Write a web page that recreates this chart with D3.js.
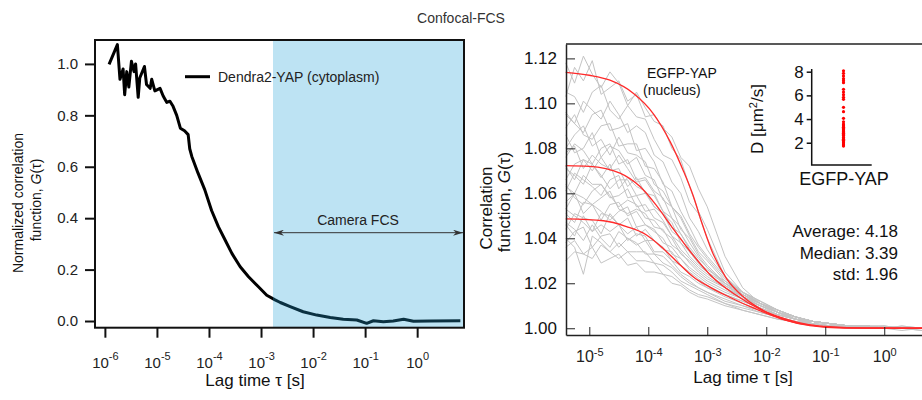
<!DOCTYPE html>
<html>
<head>
<meta charset="utf-8">
<script src="https://cdn.jsdelivr.net/npm/d3@7"></script>
<style>
body { margin: 0; background: #fff; }
svg { display: block; font-family: "Liberation Sans", Arial, sans-serif; }
</style>
</head>
<body>
<div id="chart"></div>
<script>
// Left panel: Dendra2-YAP (cytoplasm), lag times as log10(tau / s)
var leftLag = [-5.92,-5.76,-5.71,-5.65,-5.62,-5.58,-5.54,-5.49,-5.44,-5.41,-5.36,-5.33,-5.24,-5.20,-5.13,-5.10,-5.04,
	-4.94,-4.88,-4.81,-4.75,-4.69,-4.62,-4.55,-4.47,-4.40,-4.37,-4.33,-4.21,-4.08,-3.95,-3.82,-3.69,-3.56,-3.40,-3.24,
	-3.05,-2.89,-2.73,-2.63,-2.44,-2.19,-1.93,-1.67,-1.42,-1.16,-0.97,-0.84,-0.65,-0.46,-0.26,-0.07,0.25,0.83];
var leftG = [0.998,1.075,0.94,0.98,0.88,0.97,0.91,1.01,0.97,1.00,0.87,0.945,0.99,0.92,0.905,0.94,0.895,
	0.905,0.875,0.85,0.855,0.835,0.80,0.75,0.74,0.725,0.67,0.64,0.575,0.51,0.43,0.367,0.315,0.263,0.211,0.172,
	0.133,0.10,0.082,0.072,0.056,0.036,0.023,0.014,0.007,0.004,-0.009,0.001,-0.003,0.0,0.007,-0.001,0.0,0.001];
var leftXTicks = [-6,-5,-4,-3,-2,-1,0];
var leftYTicks = [0,0.2,0.4,0.6,0.8,1.0];
var cameraRange = [-2.77, 0.90];

// Right panel: EGFP-YAP (nucleus), grey = single measurements, red = fits
var grayLag = [-5.4,-5.25,-5.1,-4.95,-4.8,-4.65,-4.5,-4.35,-4.2,-4.05,-3.9,-3.75,-3.6,-3.45,-3.3,-3.15,-3.0,
	-2.7,-2.4,-2.1,-1.8,-1.5,-1.2,-0.9,-0.6,-0.3,0,0.3,0.64];
// G(tau) - 1, in units of 1e-3
var grayExcess = [
	[118,109,121,113,107,114,109,99,105,98,92,90,80,75,63,52,44,25,16,11,8,5,3,2,1,1,0,1,0],
	[103,116,110,119,104,107,110,101,104,94,95,89,85,76,72,62,54,32,18,11,7,5,3,2,1,1,1,0,0],
	[105,103,96,105,108,97,93,99,94,93,84,77,75,67,56,51,40,23,14,10,7,4,3,2,1,1,0,0,0],
	[95,91,101,97,93,101,95,87,90,87,77,74,65,60,49,43,35,23,15,11,7,5,3,2,1,1,0,0,0],
	[96,91,87,95,97,88,89,91,79,80,74,64,61,52,45,37,32,23,16,12,8,5,3,2,1,1,0,0,-1],
	[89,95,86,84,90,91,81,82,82,72,71,65,54,50,42,36,31,22,16,11,8,5,3,2,1,1,1,0,0],
	[80,86,90,81,84,77,85,78,77,74,64,61,54,49,41,34,30,21,15,11,8,5,3,2,1,0,0,0,0],
	[86,78,80,87,76,81,79,73,76,68,66,57,54,44,40,33,28,20,15,11,7,5,3,2,1,1,0,1,0],
	[76,82,79,73,80,82,73,75,66,67,61,58,49,45,38,32,27,20,14,10,7,4,3,2,1,1,0,0,-1],
	[78,81,71,77,73,71,77,71,65,66,60,52,49,42,36,31,27,19,14,10,7,4,3,2,1,1,0,0,0],
	[66,73,75,70,76,70,71,63,67,60,59,52,45,42,35,30,25,18,13,9,6,4,3,2,1,1,0,0,0],
	[72,66,75,73,67,73,62,67,63,61,54,51,47,38,34,29,25,18,13,9,6,4,3,2,1,0,1,0,0],
	[71,68,64,73,68,62,66,66,59,60,54,51,43,40,34,29,26,21,16,12,8,5,3,2,1,1,0,0,0],
	[61,69,66,63,59,66,68,58,59,52,53,48,41,38,32,28,25,20,16,12,8,5,3,2,1,1,0,-1,0],
	[63,60,68,64,64,58,59,62,54,55,49,47,41,35,31,27,24,19,15,11,8,5,3,2,1,1,0,0,0],
	[64,58,55,61,64,59,54,57,55,49,48,43,40,33,30,26,23,18,14,11,7,4,3,2,1,1,0,0,0],
	[53,60,58,55,58,61,53,51,53,51,45,44,37,34,29,25,22,18,14,11,7,4,3,2,1,1,0,0,0],
	[56,60,51,55,48,55,56,50,52,46,44,38,36,31,27,24,21,17,13,10,7,4,3,2,1,0,0,0,0],
	[51,47,56,55,52,48,52,54,45,46,43,40,33,31,26,23,20,16,13,10,6,4,3,2,1,0,0,0,0],
	[53,50,47,43,51,50,46,49,41,44,39,35,34,28,25,22,19,15,12,9,6,4,2,2,1,0,0,0,0],
	[44,51,49,48,42,51,46,42,45,39,39,36,30,28,24,21,18,15,12,9,6,4,2,1,1,0,0,0,0],
	[46,41,50,43,46,43,46,39,42,41,34,34,30,25,23,20,18,14,11,8,6,4,2,1,1,0,0,0,0],
	[47,44,39,46,40,36,43,40,37,39,33,32,28,24,21,18,16,13,10,8,5,3,2,1,1,0,0,0,0],
	[38,43,45,36,41,42,36,40,38,33,33,29,27,23,20,18,16,12,10,7,5,3,2,1,0,0,0,0,0],
	[40,36,24,41,38,34,38,34,34,34,29,28,25,21,19,17,15,11,9,7,5,3,2,1,0,0,0,0,0],
	[36,39,33,31,37,34,31,34,30,30,29,24,23,20,17,15,14,11,8,6,4,3,2,1,1,0,0,0,0],
	[30,34,33,36,29,31,33,28,29,25,25,24,20,19,16,14,13,10,8,6,4,3,2,1,0,0,0,0,0]
];
var fitLagHigh = [-5.4,-5.0,-4.65,-4.25,-3.92,-3.63,-3.41,-3.24,-3.10,-2.90,-2.67,-2.39,-2.0,-1.54,-1.0,-0.5,0.64];
var fitHigh = [1.1138,1.1125,1.1103,1.1044,1.0956,1.0830,1.0703,1.0590,1.0475,1.0330,1.0220,1.0140,1.0072,1.0027,1.0008,1.0002,1.0];
var fitLagMid = [-5.4,-5.0,-4.48,-4.14,-3.86,-3.6,-3.24,-2.92,-2.53,-2.11,-1.65,-1.26,-0.9,-0.3,0.64];
var fitMid = [1.0723,1.0720,1.0690,1.0630,1.0545,1.0450,1.0325,1.0229,1.0150,1.0085,1.0040,1.0015,1.0005,1.0001,1.0];
var fitLagLow = [-5.4,-4.76,-4.37,-4.03,-3.77,-3.52,-3.24,-2.95,-2.62,-2.2,-1.75,-1.26,-0.7,0.64];
var fitLow = [1.0486,1.0478,1.0452,1.0415,1.0360,1.0297,1.0229,1.0182,1.0138,1.0088,1.0042,1.0012,1.0001,1.0];
var rightXTicks = [-5,-4,-3,-2,-1,0];
var rightYTicks = [1.00,1.02,1.04,1.06,1.08,1.10,1.12];

// Inset: diffusion coefficients D [um^2/s]
var dValues = [8.08,7.86,7.64,7.41,7.24,7.07,6.51,6.28,6.06,5.84,5.67,4.99,4.62,4.06,3.77,3.58,3.50,3.41,3.30,
	3.21,3.10,3.07,3.00,2.93,2.90,2.85,2.79,2.70,2.65,2.60,2.45,2.40,2.29,2.20,2.08,2.00,1.89,1.80,1.72];
var insetTicks = [2,4,6,8];
var statLines = ["Average: 4.18", "Median: 3.39", "std: 1.96"];

var W = 922, H = 400;
var svg = d3.select("#chart").append("svg").attr("width", W).attr("height", H);

svg.append("text")
		.attr("x", 461).attr("y", 23)
		.attr("text-anchor", "middle")
		.style("font-size", "14px").style("fill", "#333")
		.text("Confocal-FCS");

function pow10(p) { return Math.pow(10, p); }

function powLabels(axisG, y, size, supSize, rise) {
	axisG.selectAll(".tick text")
			.attr("dy", null)
			.attr("y", y)
			.attr("text-anchor", "middle")
			.style("font-size", size + "px")
			.style("fill", "#222")
			.each(function(d) {
				var t = d3.select(this).text("10");
				t.append("tspan")
						.attr("dy", -rise)
						.style("font-size", supSize + "px")
						.text(String(Math.round(Math.log10(d))));
			});
}

// ---------- left panel ----------
var xL = d3.scaleLog().domain([pow10(-6.19), pow10(0.9)]).range([95, 464]);
var yL = d3.scaleLinear().domain([-0.026, 1.093]).range([327.7, 40]);
var left = svg.append("g").attr("class", "left");

var lineL = d3.line()
		.x(function(d, i) { return xL(pow10(leftLag[i])); })
		.y(function(d) { return yL(d); });

left.append("path")
		.datum(leftG)
		.attr("d", lineL)
		.attr("fill", "none")
		.attr("stroke", "#000")
		.attr("stroke-width", 3)
		.attr("stroke-linejoin", "round");

// camera FCS range, drawn over the curve so it tints it
left.append("rect")
		.attr("x", xL(pow10(cameraRange[0])))
		.attr("y", yL.range()[1])
		.attr("width", xL(pow10(cameraRange[1])) - xL(pow10(cameraRange[0])))
		.attr("height", yL.range()[0] - yL.range()[1])
		.attr("fill", "#23a2d7")
		.attr("fill-opacity", 0.3);

left.append("rect")
		.attr("x", 95).attr("y", 40)
		.attr("width", 369).attr("height", 287.7)
		.attr("fill", "none")
		.attr("stroke", "#111")
		.attr("stroke-width", 2);

var defs = svg.append("defs");
defs.append("marker")
		.attr("id", "arrow")
		.attr("viewBox", "0 0 10 6")
		.attr("refX", 10).attr("refY", 3)
		.attr("markerWidth", 10).attr("markerHeight", 6)
		.attr("markerUnits", "userSpaceOnUse")
		.attr("orient", "auto-start-reverse")
	.append("path")
		.attr("d", "M0,0L10,3L0,6L3,3Z")
		.attr("fill", "#333");

var arrowY = 232.7;
left.append("line")
		.attr("x1", xL(pow10(cameraRange[0])) + 1).attr("x2", xL(pow10(cameraRange[1])) - 1)
		.attr("y1", arrowY).attr("y2", arrowY)
		.attr("stroke", "#333").attr("stroke-width", 1)
		.attr("marker-start", "url(#arrow)")
		.attr("marker-end", "url(#arrow)");

left.append("text")
		.attr("x", 358).attr("y", 225)
		.attr("text-anchor", "middle")
		.style("font-size", "14px").style("fill", "#222")
		.text("Camera FCS");

// legend
left.append("line")
		.attr("x1", 185).attr("x2", 210)
		.attr("y1", 76.7).attr("y2", 76.7)
		.attr("stroke", "#000").attr("stroke-width", 3);
left.append("text")
		.attr("x", 218).attr("y", 82)
		.style("font-size", "14px").style("fill", "#222")
		.text("Dendra2-YAP (cytoplasm)");

var xAxisL = left.append("g")
		.attr("transform", "translate(0,327.7)")
		.call(d3.axisBottom(xL).tickValues(leftXTicks.map(pow10)).tickSize(10).tickFormat(""));
xAxisL.select(".domain").remove();
xAxisL.selectAll(".tick line").attr("stroke", "#111").attr("stroke-width", 2);
powLabels(xAxisL, 40, 15, 11, 8);

var yAxisL = left.append("g")
		.attr("transform", "translate(95,0)")
		.call(d3.axisLeft(yL).tickValues(leftYTicks).tickSize(10).tickPadding(7).tickFormat(d3.format(".1f")));
yAxisL.select(".domain").remove();
yAxisL.selectAll(".tick line").attr("stroke", "#111").attr("stroke-width", 2);
yAxisL.selectAll(".tick text").style("font-size", "15px").style("fill", "#222");

left.append("text")
		.attr("x", 255).attr("y", 386)
		.attr("text-anchor", "middle")
		.style("font-size", "17px").style("fill", "#111")
		.text("Lag time \u03c4 [s]");

var yLabelL = left.append("text")
		.attr("transform", "rotate(-90)")
		.attr("text-anchor", "middle")
		.style("font-size", "14px").style("fill", "#111");
yLabelL.append("tspan").attr("x", -203).attr("y", 23).text("Normalized correlation");
yLabelL.append("tspan").attr("x", -200).attr("y", 41).text("function, ");
yLabelL.append("tspan").style("font-style", "italic").text("G");
yLabelL.append("tspan").text("(\u03c4)");

// ---------- right panel ----------
var xR = d3.scaleLog().domain([pow10(-5.395), pow10(0.64)]).range([566, 922]);
var yR = d3.scaleLinear().domain([0.997, 1.1264]).range([335, 44]);
var right = svg.append("g").attr("class", "right");

var grayLine = d3.line()
		.x(function(d, i) { return xR(pow10(grayLag[i])); })
		.y(function(d) { return yR(1 + d / 1000); });

right.append("g").selectAll("path")
		.data(grayExcess)
	.enter().append("path")
		.attr("d", grayLine)
		.attr("fill", "none")
		.attr("stroke", "#c4c4c4")
		.attr("stroke-width", 1);

var fits = [
	{lag: fitLagHigh, g: fitHigh},
	{lag: fitLagMid, g: fitMid},
	{lag: fitLagLow, g: fitLow}
];
right.append("g").selectAll("path")
		.data(fits)
	.enter().append("path")
		.attr("d", function(f) {
			return d3.line()
					.curve(d3.curveMonotoneX)
					.x(function(d, i) { return xR(pow10(f.lag[i])); })
					.y(function(d) { return yR(d); })(f.g);
		})
		.attr("fill", "none")
		.attr("stroke", "#ff2a2a")
		.attr("stroke-width", 1.3);

// frame: top line plus the two axes
right.append("line")
		.attr("x1", 566).attr("x2", 922).attr("y1", 44).attr("y2", 44)
		.attr("stroke", "#222").attr("stroke-width", 1.5);

var xAxisR = right.append("g")
		.attr("transform", "translate(0,335)")
		.call(d3.axisBottom(xR).tickValues(rightXTicks.map(pow10)).tickSizeInner(-8).tickSizeOuter(0).tickFormat(""));
xAxisR.select(".domain").attr("stroke", "#222").attr("stroke-width", 1.5);
xAxisR.selectAll(".tick line").attr("stroke", "#222");
powLabels(xAxisR, 27, 16, 11, 6);

var yAxisR = right.append("g")
		.attr("transform", "translate(566,0)")
		.call(d3.axisLeft(yR).tickValues(rightYTicks).tickSizeInner(-9).tickSizeOuter(0).tickPadding(9).tickFormat(d3.format(".2f")));
yAxisR.select(".domain").attr("stroke", "#222").attr("stroke-width", 1.5);
yAxisR.selectAll(".tick line").attr("stroke", "#222");
yAxisR.selectAll(".tick text").style("font-size", "17px").style("fill", "#111");

right.append("text")
		.attr("x", 743).attr("y", 383)
		.attr("text-anchor", "middle")
		.style("font-size", "17px").style("fill", "#111")
		.text("Lag time \u03c4 [s]");

var yLabelR = right.append("text")
		.attr("transform", "rotate(-90)")
		.attr("text-anchor", "middle")
		.style("font-size", "17px").style("fill", "#111");
yLabelR.append("tspan").attr("x", -208).attr("y", 492).text("Correlation");
yLabelR.append("tspan").attr("x", -202).attr("y", 510).text("function, ");
yLabelR.append("tspan").style("font-style", "italic").text("G");
yLabelR.append("tspan").text("(\u03c4)");

right.append("text")
		.attr("x", 647).attr("y", 78)
		.style("font-size", "14px").style("fill", "#111")
		.text("EGFP-YAP");
right.append("text")
		.attr("x", 643).attr("y", 95)
		.style("font-size", "14px").style("fill", "#111")
		.text("(nucleus)");

right.selectAll(".stat")
		.data(statLines)
	.enter().append("text")
		.attr("class", "stat")
		.attr("x", 898)
		.attr("y", function(d, i) { return 237 + i * 21.5; })
		.attr("text-anchor", "end")
		.style("font-size", "17px").style("fill", "#111")
		.text(function(d) { return d; });

// ---------- inset ----------
var yI = d3.scaleLinear().domain([0, 8]).range([166.4, 71.7]);
var xI = d3.scalePoint().domain(["EGFP-YAP"]).range([812, 875]).padding(0.5);
var inset = right.append("g").attr("class", "inset");

var yAxisI = inset.append("g")
		.attr("transform", "translate(811.7,0)")
		.call(d3.axisLeft(yI).tickValues(insetTicks).tickSize(5).tickPadding(3));
yAxisI.select(".domain").remove();
yAxisI.selectAll(".tick line").attr("stroke", "#111").attr("stroke-width", 1.5);
yAxisI.selectAll(".tick text").style("font-size", "17px").style("fill", "#111");

inset.append("path")
		.attr("d", "M811.7,69V165H871.7")
		.attr("fill", "none")
		.attr("stroke", "#111")
		.attr("stroke-width", 1.5);

inset.selectAll("circle")
		.data(dValues)
	.enter().append("circle")
		.attr("cx", xI("EGFP-YAP"))
		.attr("cy", function(d) { return yI(d); })
		.attr("r", 1.6)
		.attr("fill", "#f00");

inset.append("text")
		.attr("x", 844).attr("y", 185)
		.attr("text-anchor", "middle")
		.style("font-size", "18px").style("fill", "#111")
		.text("EGFP-YAP");

var dLabel = inset.append("text")
		.attr("transform", "translate(763,119) rotate(-90)")
		.attr("text-anchor", "middle")
		.style("font-size", "17px").style("fill", "#111");
dLabel.append("tspan").text("D [\u03bcm");
dLabel.append("tspan").attr("dy", -6).style("font-size", "11px").text("2");
dLabel.append("tspan").attr("dy", 6).text("/s]");
</script>
</body>
</html>
